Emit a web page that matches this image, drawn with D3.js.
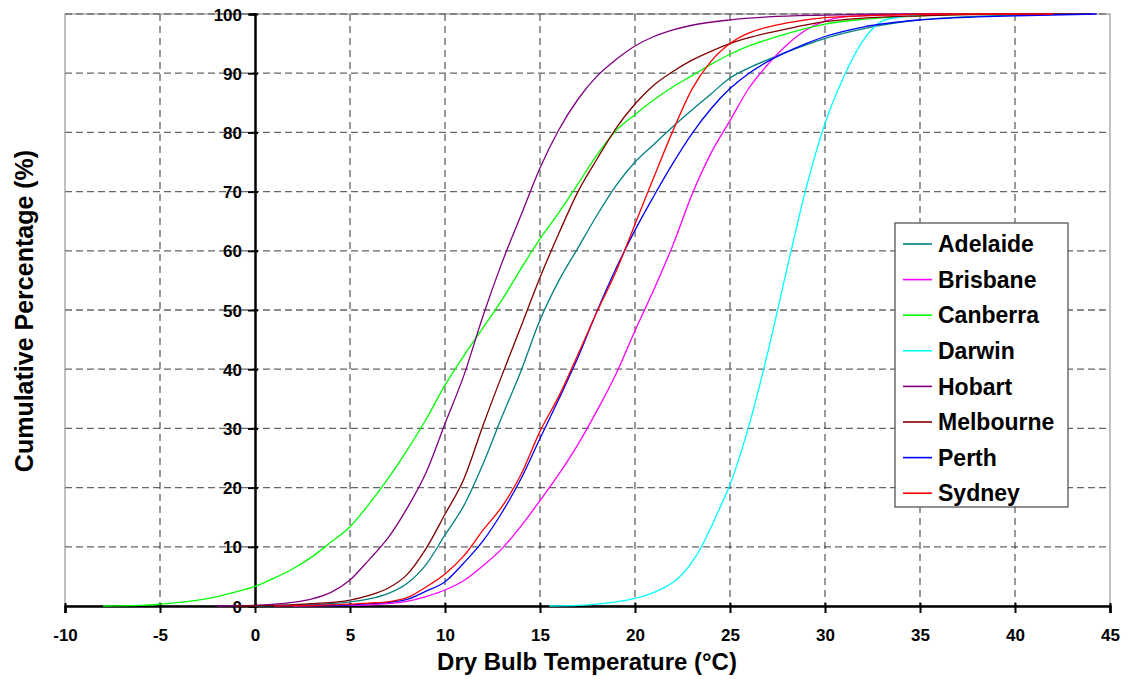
<!DOCTYPE html>
<html>
<head>
<meta charset="utf-8">
<script src="https://cdn.jsdelivr.net/npm/d3@7"></script>
<style>
  body { margin: 0; background: #fff; }
  text { font-family: "Liberation Sans", Arial, sans-serif; font-weight: bold; fill: #000; }
</style>
</head>
<body>
<div id="container"></div>
<script>
/* DATA: [temperature degC, cumulative %] */
const adelaide = [[0,0],[2,0.15],[4,0.4],[5,0.7],[6,1.2],[7,2.1],[8,3.8],[9,7],[10,12],[11,17],[12,24],[13,32],[14,39.7],[15,48.3],[16,55],[17,60.5],[18,66],[19,71],[20,75],[21,78],[22,81],[23,83.8],[24,86.5],[25,89.2],[26,90.9],[27,92.3],[28,93.6],[29,94.8],[30,95.9],[32,97.5],[35,99],[38,99.6],[40,99.8],[43,100]]
const brisbane = [[2,0],[4,0.05],[5,0.1],[6,0.2],[7,0.4],[8,0.8],[9,1.6],[10,2.7],[11,4.3],[12,6.8],[13,9.7],[14,13.5],[15,17.8],[16,22.3],[17,27.3],[18,33],[19,39.2],[20,46.5],[21,53.5],[22,61],[23,69.5],[24,76.5],[25,82],[26,87.5],[27,91.5],[28,94.8],[29,97.3],[30,98.8],[31,99.5],[33,99.8],[36,100],[42,100]]
const canberra = [[-8,0],[-6,0.1],[-5,0.3],[-4,0.6],[-3,1],[-2,1.6],[-1,2.4],[0,3.3],[1,4.7],[2,6.3],[3,8.3],[4,10.8],[5,13.4],[6,17.2],[7,21.5],[8,26.3],[9,31.5],[10,37.3],[11,42.3],[12,47],[13,51.7],[14,57],[15,62],[16,66.5],[17,71.3],[18,76.2],[19,80.3],[20,83],[21,85.5],[22,87.7],[23,89.6],[24,91.5],[25,93.2],[26,94.6],[27,95.7],[28,96.7],[30,98.3],[32,99.1],[35,99.7],[38,100],[42,100]]
const darwin = [[15.5,0],[17,0.1],[18,0.3],[19,0.7],[20,1.3],[21,2.3],[22,4],[22.5,5.4],[23,7.4],[23.5,10],[24,13.3],[24.5,16.8],[25,20.5],[26,30.5],[27,43],[28,57],[29,70.5],[30,81.5],[31,89.5],[32,95.5],[33,98.8],[34,99.5],[35,99.8],[38,100],[42,100]]
const hobart = [[-2,0],[0,0.1],[1,0.3],[2,0.6],[3,1.2],[4,2.3],[5,4.4],[6,7.8],[7,11.5],[8,16.5],[9,22.5],[10,30.8],[11,39],[12,49],[13,58],[14,66],[15,74],[16,80.5],[17,85.6],[18,89.5],[19,92.3],[20,94.6],[21,96.2],[22,97.3],[23,98.1],[25,99],[27,99.5],[30,99.8],[35,100],[42,100]]
const melbourne = [[-1,0],[1,0.1],[3,0.4],[5,1],[6,1.8],[7,3],[8,5.3],[9,9.7],[10,15.5],[11,21.5],[12,30.5],[13,39],[14,47.2],[15,55.5],[16,63],[17,70],[18,75.5],[19,80.7],[20,84.8],[21,88],[22,90.3],[23,92.2],[24,93.7],[25,95],[26,96],[27,96.8],[28,97.5],[30,98.7],[32,99.3],[35,99.7],[40,100],[44,100]]
const perth = [[1,0],[3,0.1],[5,0.2],[6,0.4],[7,0.6],[8,1.1],[9,2.5],[10,4.1],[11,7.3],[12,11],[13,15.8],[14,21.5],[15,28.3],[16,35],[17,42],[18,49.8],[19,57],[20,63.5],[21,69.3],[22,74.8],[23,79.8],[24,84],[25,87.4],[26,90],[27,92],[28,93.6],[29,95],[30,96.2],[32,97.8],[35,99],[38,99.5],[40,99.7],[44.3,100]]
const sydney = [[1,0],[3,0.1],[5,0.3],[6,0.5],[7,0.7],[8,1.4],[9,3.2],[10,5.4],[11,8.5],[12,12.8],[13,16.8],[14,22.2],[15,29.5],[16,35.5],[17,42.5],[18,49.7],[19,56.5],[20,64.5],[21,72.5],[22,80.3],[23,87.3],[24,92],[25,95],[26,96.8],[27,97.8],[28,98.5],[30,99.4],[33,99.8],[36,100],[42,100]]

const cities = ["Adelaide", "Brisbane", "Canberra", "Darwin", "Hobart", "Melbourne", "Perth", "Sydney"]
const cityData = [adelaide, brisbane, canberra, darwin, hobart, melbourne, perth, sydney]
const cityColors = ["#008080", "#FF00FF", "#00FF00", "#00FFFF", "#800080", "#800000", "#0000FF", "#FF0000"]
const xTicks = [-10, -5, 0, 5, 10, 15, 20, 25, 30, 35, 40, 45]
const yTicks = [0, 10, 20, 30, 40, 50, 60, 70, 80, 90, 100]

/* CONSTANTS */
const width = 1129, height = 679
const plot = { left: 65, right: 1110, top: 14, bottom: 606 }

const svg = d3.select("#container").append("svg")
  .attr("width", width)
  .attr("height", height)

/* SCALES */
const xScale = d3.scaleLinear().domain([-10, 45]).range([plot.left, plot.right])
const yScale = d3.scaleLinear().domain([0, 100]).range([plot.bottom, plot.top])

// grid lines
svg.append("g").selectAll("line")
  .data(yTicks.filter(d => d > 0))
  .join("line")
  .attr("x1", plot.left).attr("x2", plot.right)
  .attr("y1", d => yScale(d)).attr("y2", d => yScale(d))
  .attr("stroke", "#666").attr("stroke-width", 1.3)
  .attr("stroke-dasharray", "7,4")

svg.append("g").selectAll("line")
  .data(xTicks.filter(d => d !== 0 && d !== -10 && d !== 45))
  .join("line")
  .attr("x1", d => xScale(d)).attr("x2", d => xScale(d))
  .attr("y1", plot.top).attr("y2", plot.bottom)
  .attr("stroke", "#333").attr("stroke-width", 1)
  .attr("stroke-dasharray", "7,5")

// frame
svg.append("rect")
  .attr("x", plot.left).attr("y", plot.top)
  .attr("width", plot.right - plot.left).attr("height", plot.bottom - plot.top)
  .attr("fill", "none").attr("stroke", "#808080")

/* LINES */
const line = d3.line()
  .x(d => xScale(d[0]))
  .y(d => yScale(d[1]))
  .curve(d3.curveMonotoneX)

// axes (x at 0%, y at 0 degC)
const xAxis = d3.axisBottom(xScale).tickValues(xTicks).tickSize(7).tickFormat(d => String(d))
const xg = svg.append("g")
  .attr("transform", `translate(0,${yScale(0)})`)
  .call(xAxis)
xg.select(".domain").attr("stroke", "#000").attr("stroke-width", 2.5)
xg.selectAll(".tick line").attr("stroke", "#000").attr("stroke-width", 2).attr("y1", -3)
xg.selectAll(".tick text").attr("font-size", 17).attr("dy", 0).attr("y", 35)
  .style("font-family", "'Liberation Sans', Arial, sans-serif").style("font-weight", "bold")

const yAxis = d3.axisLeft(yScale).tickValues(yTicks).tickSize(6)
const yg = svg.append("g")
  .attr("transform", `translate(${xScale(0)},0)`)
  .call(yAxis)
yg.select(".domain").attr("stroke", "#000").attr("stroke-width", 2.5)
yg.selectAll(".tick line").attr("stroke", "#000").attr("stroke-width", 2).attr("x2", -7).attr("x1", 3)
yg.selectAll(".tick text").attr("font-size", 17).attr("x", -13).attr("dy", "0.36em")
  .style("font-family", "'Liberation Sans', Arial, sans-serif").style("font-weight", "bold")

svg.append("g").selectAll("path")
  .data(cityData)
  .join("path")
  .attr("d", line)
  .attr("fill", "none")
  .attr("stroke", (d, i) => cityColors[i])
  .attr("stroke-width", 1.3)

/* TITLES */
svg.append("text")
  .attr("x", 587).attr("y", 670)
  .attr("text-anchor", "middle")
  .attr("font-size", 24)
  .text("Dry Bulb Temperature (°C)")

svg.append("text")
  .attr("transform", "translate(33,311) rotate(-90)")
  .attr("text-anchor", "middle")
  .attr("font-size", 25)
  .text("Cumulative Percentage (%)")

/* LEGEND */
const legend = svg.append("g")
legend.append("rect")
  .attr("x", 895).attr("y", 223).attr("width", 173).attr("height", 284)
  .attr("fill", "#fff").attr("stroke", "#555").attr("stroke-width", 1.3)

const item = legend.selectAll(".item")
  .data(cities)
  .join("g")
  .attr("class", "item")
  .attr("transform", (d, i) => `translate(0,${244 + i * 35.6})`)
item.append("line")
  .attr("x1", 903).attr("x2", 932)
  .attr("stroke", (d, i) => cityColors[i]).attr("stroke-width", 1.6)
item.append("text")
  .attr("x", 938).attr("dy", "0.36em")
  .attr("font-size", 23)
  .text(d => d)
</script>
</body>
</html>
